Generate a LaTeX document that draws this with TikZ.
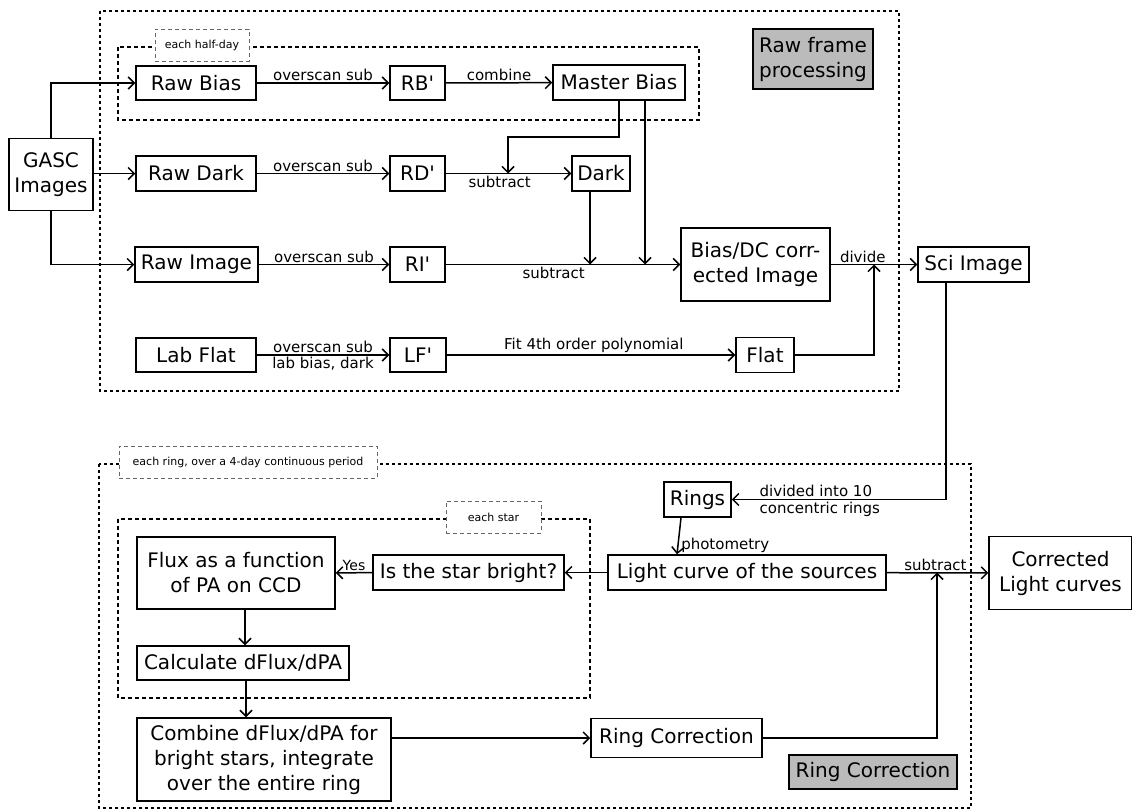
\documentclass[tikz,border=0pt]{standalone}
\usepackage{fontspec}
\setmainfont{DejaVu Sans}[Ligatures=TeXOff]
\usetikzlibrary{arrows.meta,calc}
\definecolor{tagfill}{RGB}{187,187,187}
\newcommand{\bfs}{\fontsize{20}{25}\selectfont}
\newcommand{\lfs}{\fontsize{15}{17}\selectfont}
\newcommand{\tfs}{\fontsize{11}{13}\selectfont}
\begin{document}
\begin{tikzpicture}[x=1pt,y=-1pt,
  box/.style={draw, line width=1.5pt, inner sep=0pt, align=center, font=\bfs, fill=white},
  graytag/.style={box, fill=tagfill},
  arr/.style={line width=1.5pt, -{Straight Barb[length=6pt,width=12pt]}},
  plain/.style={line width=1.5pt},
  lbl/.style={font=\lfs, inner sep=1.5pt},
  outerframe/.style={line width=1.5pt, dash pattern=on 3pt off 3pt},
  innerframe/.style={line width=1.5pt, dash pattern=on 4pt off 3pt},
  tag/.style={draw=black!60, line width=0.8pt, dash pattern=on 4pt off 3pt, fill=white, font=\tfs, inner sep=0pt}
]
\useasboundingbox (0,0) rectangle (1132,811);

% frames
\draw[outerframe] (100,11) rectangle (899,391);
\draw[innerframe] (118,47) rectangle (699,120);
\node[tag, minimum width=94pt, minimum height=32pt] (tHalf) at (202,45) {each half-day};
\draw[outerframe] (99,464) rectangle (971,808);
\node[tag, minimum width=258pt, minimum height=32pt] (tRing) at (248,462) {each ring, over a 4-day continuous period};
\draw[innerframe] (118,519) rectangle (590,698);
\node[tag, minimum width=95pt, minimum height=32pt] (tStar) at (493.5,517) {each star};

% top nodes
\node[box, minimum width=84pt, minimum height=72pt] (gasc) at (51,174.5) {GASC\\Images};
\node[box, minimum width=120pt, minimum height=34pt] (rawbias) at (196,83) {Raw Bias};
\node[box, minimum width=120pt, minimum height=35pt] (rawdark) at (196,173.5) {Raw Dark};
\node[box, minimum width=123pt, minimum height=35pt] (rawimage) at (196.5,264.5) {Raw Image};
\node[box, minimum width=120pt, minimum height=34pt] (labflat) at (196,355) {Lab Flat};
\node[box, minimum width=55pt, minimum height=34pt] (rbp) at (417.5,83) {RB'};
\node[box, minimum width=55pt, minimum height=35pt] (rdp) at (417.5,173.5) {RD'};
\node[box, minimum width=55pt, minimum height=35pt] (rip) at (417.5,264.5) {RI'};
\node[box, minimum width=56pt, minimum height=34pt] (lfp) at (418,355) {LF'};
\node[box, minimum width=132pt, minimum height=35pt] (master) at (619,82.5) {Master Bias};
\node[box, minimum width=58pt, minimum height=35pt] (dark) at (601,173.5) {Dark};
\node[box, minimum width=149pt, minimum height=73pt] (biasdc) at (755.5,264.5) {Bias/DC corr-\\ected Image};
\node[box, minimum width=58pt, minimum height=35pt] (flat) at (765,355) {Flat};
\node[box, minimum width=111pt, minimum height=35pt] (sci) at (973.5,264.5) {Sci Image};
\node[graytag, minimum width=120pt, minimum height=60pt] (rawtag) at (813,59) {Raw frame\\processing};

% bottom nodes
\node[box, minimum width=67pt, minimum height=35pt] (rings) at (697.5,499.5) {Rings};
\node[box, minimum width=278pt, minimum height=35pt] (light) at (747,572.5) {Light curve of the sources};
\node[box, minimum width=143pt, minimum height=73pt] (corr) at (1060.5,573) {Corrected\\Light curves};
\node[box, minimum width=191pt, minimum height=35pt] (bright) at (468.5,572.5) {Is the star bright?};
\node[box, minimum width=198pt, minimum height=72pt] (flux) at (236,573) {Flux as a function\\of PA on CCD};
\node[box, minimum width=212pt, minimum height=34pt] (calc) at (243,663) {Calculate dFlux/dPA};
\node[box, minimum width=254pt, minimum height=83pt] (combine) at (264,759.5) {Combine dFlux/dPA for\\bright stars, integrate\\over the entire ring};
\node[box, minimum width=171pt, minimum height=39pt] (ringcorr) at (676.5,738) {Ring Correction};
\node[graytag, minimum width=168pt, minimum height=34pt] (ringtag) at (873,772) {Ring Correction};

% junction coordinates
\coordinate (j1) at (508,173.5);
\coordinate (j2) at (590,264.5);
\coordinate (j3) at (645,264.5);
\coordinate (j4) at (874,264.5);
\coordinate (j5) at (937,572.5);
\coordinate (s1) at (946,282);

% top connectors
\draw[arr] (gasc.north) |- (rawbias.west);
\draw[arr] (gasc.east |- rawdark.west) -- (rawdark.west);
\draw[arr] (gasc.south) |- (rawimage.west);
\draw[arr] (rawbias) -- node[lbl, above] {overscan sub} (rbp);
\draw[arr] (rawdark) -- node[lbl, above] {overscan sub} (rdp);
\draw[arr] (rawimage) -- node[lbl, above] {overscan sub} (rip);
\draw[arr] (labflat) -- node[lbl, above] {overscan sub} node[lbl, below] {lab bias, dark} (lfp);
\draw[arr] (rbp) -- node[lbl, above] {combine} (master);
\draw[arr] (rdp) -- node[lbl, below, pos=0.43] {subtract} (dark);
\draw[arr] (master.south) -- (master.south |- 0,137) -| (j1);
\draw[arr] (rip) -- node[lbl, below, pos=0.46] {subtract} (biasdc);
\draw[arr] (dark.south -| j2) -- (j2);
\draw[arr] (master.south -| j3) -- (j3);
\draw[arr] (biasdc) -- node[lbl, above, pos=0.37] {divide} (sci);
\draw[arr] (flat.east) -| (j4);
\draw[arr] (lfp) -- node[lbl, above, pos=0.51] {Fit 4th order polynomial} (flat);

% bottom connectors
\draw[arr] (sci.south -| s1) |- (rings.east);
\node[lbl, anchor=west, align=left] (divlbl) at (758,501) {divided into 10\\concentric rings};
\draw[arr] ([xshift=-16.5pt]rings.south) -- node[lbl, pos=0.75, anchor=west, xshift=1pt] {photometry} ([xshift=-70pt]light.north);
\draw[arr] (light) -- (bright);
\draw[arr] (bright) -- node[font=\fontsize{14}{16}\selectfont, inner sep=1pt, above] {Yes} (flux);
\draw[arr] ([xshift=9pt]flux.south) -- ([xshift=2pt]calc.north);
\draw[arr] ([xshift=3pt]calc.south) -- ([xshift=-18pt]combine.north);
\draw[arr] (combine.east |- ringcorr.west) -- (ringcorr.west);
\draw[arr] (ringcorr.east) -| (j5);
\draw[arr] (light) -- node[lbl, above, pos=0.48] {subtract} (corr);
\end{tikzpicture}
\end{document}
